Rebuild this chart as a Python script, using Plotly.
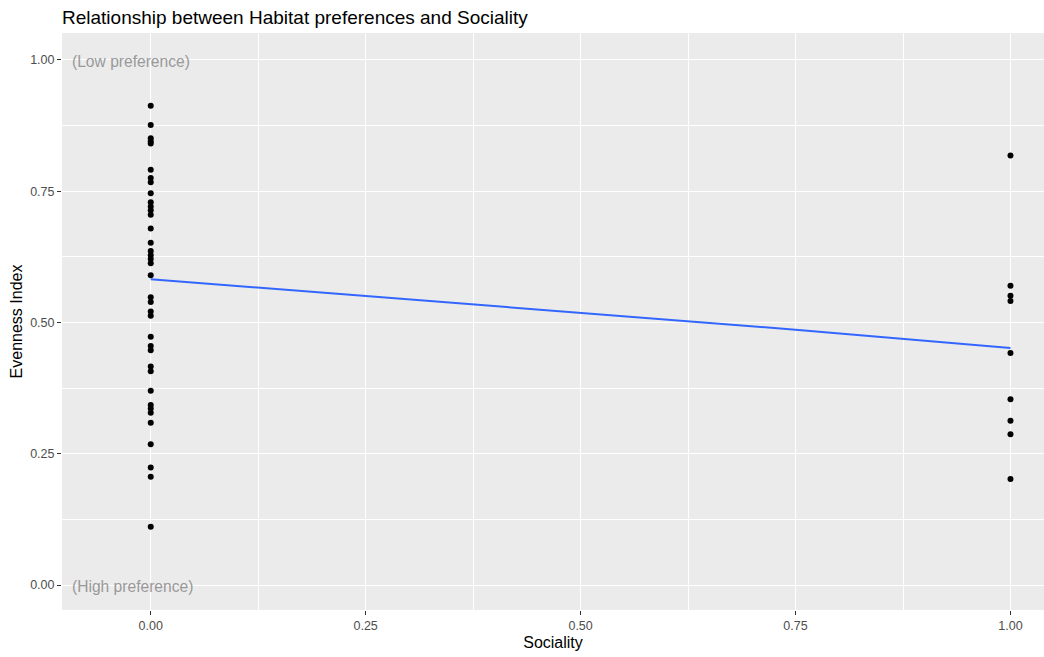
import plotly.graph_objects as go

# Data
sociality_0 = [0.913, 0.876, 0.851, 0.845, 0.841, 0.791, 0.775, 0.767, 0.746, 0.729,
               0.721, 0.714, 0.705, 0.679, 0.652, 0.636, 0.628, 0.621, 0.613, 0.590,
               0.548, 0.539, 0.521, 0.513, 0.473, 0.455, 0.447, 0.416, 0.407, 0.370,
               0.343, 0.336, 0.328, 0.309, 0.268, 0.224, 0.206, 0.111]
sociality_1 = [0.818, 0.570, 0.551, 0.541, 0.442, 0.354, 0.313, 0.287, 0.202]

smooth_x = [0.0, 0.25, 0.5, 0.75, 1.0]
smooth_y = [0.5825, 0.550, 0.518, 0.4864, 0.4512]

x_ticks = [0.0, 0.25, 0.5, 0.75, 1.0]
x_ticklabels = ["0.00", "0.25", "0.50", "0.75", "1.00"]
y_ticks = [0.0, 0.25, 0.5, 0.75, 1.0]
y_ticklabels = ["0.00", "0.25", "0.50", "0.75", "1.00"]
minor_vals = [0.125, 0.375, 0.625, 0.875]

xs = [0.0] * len(sociality_0) + [1.0] * len(sociality_1)
ys = sociality_0 + sociality_1

FONT = "Liberation Sans, Arial, sans-serif"

fig = go.Figure()
fig.add_trace(go.Scatter(x=xs, y=ys, mode="markers",
                         marker=dict(color="black", size=6, line=dict(width=0)),
                         showlegend=False))
fig.add_trace(go.Scatter(x=smooth_x, y=smooth_y, mode="lines",
                         line=dict(color="#3366FF", width=2), showlegend=False))

fig.add_annotation(x=-0.094, y=0.998, text="(Low preference)", showarrow=False,
                   xanchor="left", yanchor="middle",
                   font=dict(family=FONT, size=15.6, color="#999999"))
fig.add_annotation(x=-0.094, y=-0.002, text="(High preference)", showarrow=False,
                   xanchor="left", yanchor="middle",
                   font=dict(family=FONT, size=15.6, color="#999999"))

axis_common = dict(
    showgrid=True, gridcolor="white", gridwidth=1.1,
    zeroline=False, showline=False,
    ticks="outside", ticklen=4, tickwidth=1, tickcolor="#333333",
    tickfont=dict(family=FONT, size=12.5, color="#4D4D4D"),
    tickmode="array",
    minor=dict(tickmode="array", tickvals=minor_vals, showgrid=True,
               gridcolor="white", gridwidth=0.5, ticks=""),
)

fig.update_layout(
    width=1044, height=657,
    margin=dict(l=62, r=0, t=33, b=47),
    paper_bgcolor="white", plot_bgcolor="#EBEBEB",
    title=dict(text="Relationship between Habitat preferences and Sociality",
               x=0, xref="paper", xanchor="left",
               y=1 - 17 / 657, yref="container", yanchor="middle",
               font=dict(family=FONT, size=19, color="black")),
    xaxis=dict(axis_common, range=[-0.1032, 1.039], tickvals=x_ticks,
               ticktext=x_ticklabels,
               title=dict(text="Sociality", standoff=4,
                          font=dict(family=FONT, size=16, color="black"))),
    yaxis=dict(axis_common, range=[-0.0476, 1.0514], tickvals=y_ticks,
               ticktext=y_ticklabels,
               title=dict(text="Evenness Index", standoff=3,
                          font=dict(family=FONT, size=16, color="black"))),
)

fig.write_html("out.html")
